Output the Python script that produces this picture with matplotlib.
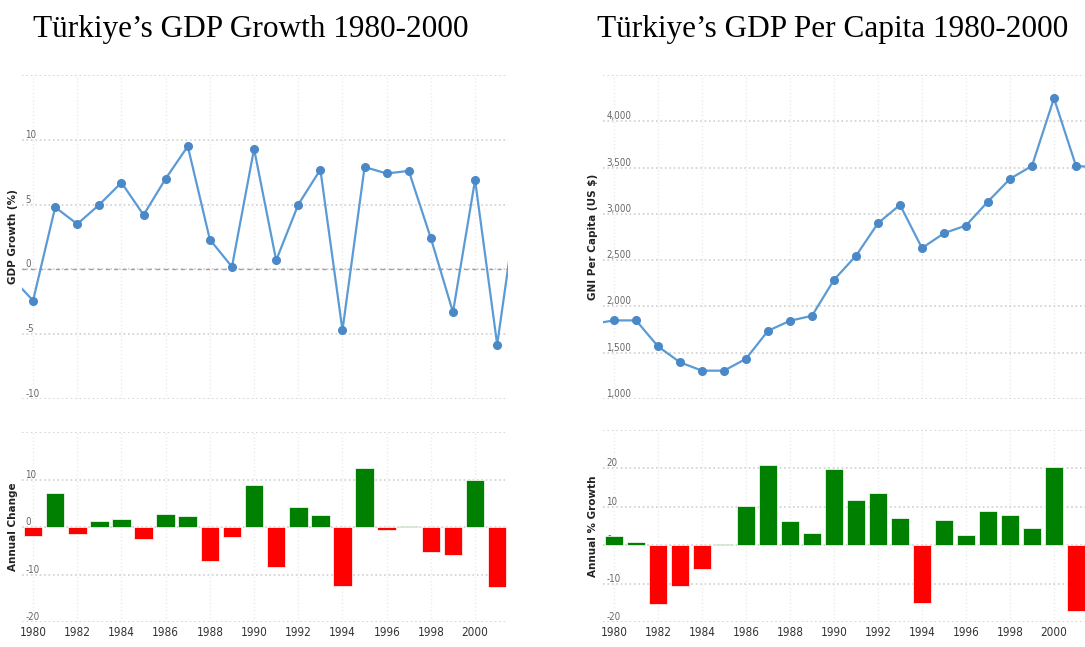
import numpy as np
import matplotlib.pyplot as plt

# years shown on the x axis (line runs a little past both ends, clipped by the axes)
line_years = list(range(1979, 2003))
bar_years = list(range(1980, 2002))

# GDP growth (%), 1979-2002
gdp_growth = [-0.6, -2.4, 4.8, 3.5, 5.0, 6.7, 4.2, 7.0, 9.5, 2.3, 0.2, 9.3,
              0.7, 5.0, 7.7, -4.7, 7.9, 7.4, 7.6, 2.4, -3.3, 6.9, -5.8, 6.2]
# annual change of growth, 1980-2001
gdp_change = [-1.9, 7.2, -1.4, 1.2, 1.6, -2.5, 2.8, 2.3, -7.2, -2.1, 8.8,
              -8.5, 4.3, 2.6, -12.4, 12.4, -0.6, 0.3, -5.3, -5.8, 10.0, -12.6]

# GNI per capita (US $), 1979-2002
gni_pc = [1810, 1849, 1849, 1568, 1396, 1306, 1306, 1435, 1737, 1845, 1899,
          2288, 2547, 2899, 3097, 2630, 2791, 2874, 3133, 3378, 3518, 4248,
          3518, 3500]
# annual % growth, 1980-2001
gni_growth = [2.4, 0.9, -15.2, -10.6, -6.3, 0.3, 10.1, 21.0, 6.3, 3.3, 19.8,
              11.7, 13.6, 7.0, -15.0, 6.6, 2.6, 9.0, 7.9, 4.4, 20.4, -17.0]

xticks = list(range(1980, 2001, 2))

line_c = '#5b9bd5'
mark_c = '#4a88c8'
grid_c = '#cfcfcf'
tick_font = ['DejaVu Sans Condensed', 'Liberation Sans Narrow', 'DejaVu Sans']

fig = plt.figure(figsize=(10.85, 6.47), dpi=100)


def style(ax, yticks, ylim, xlim, bottom):
    ax.set_xlim(*xlim)
    ax.set_ylim(*ylim)
    for s in ax.spines.values():
        s.set_visible(False)
    ax.set_yticks(yticks, labels=[f'{t:,}' for t in yticks], ha='left', va='bottom',
                  family=tick_font, stretch='condensed', fontsize=7, color='#666666')
    ax.tick_params(axis='y', length=0, pad=-2.5)
    ax.set_xticks(xticks)
    if bottom:
        ax.set_xticklabels([str(x) for x in xticks], family=tick_font, stretch='condensed',
                           fontsize=8.5, color='#333333')
    else:
        ax.set_xticklabels([])
    ax.tick_params(axis='x', length=0, pad=3)
    ax.yaxis.grid(True, linestyle=':', color=grid_c, linewidth=1.2)
    ax.xaxis.grid(True, linestyle=':', color='#ececec', linewidth=1)
    ax.set_axisbelow(True)
    # top gridline has no label in the reference
    ax.get_yticklabels()[-1].set_visible(False)


def line_chart(rect, ydata, yticks, ylim, xlim, ylabel, xlab_x):
    ax = fig.add_axes(rect)
    style(ax, yticks, ylim, xlim, False)
    ax.plot(line_years, ydata, color=line_c, linewidth=1.6, marker='o', markersize=5.5,
            markerfacecolor=mark_c, markeredgecolor=mark_c, zorder=3)
    fig.text(xlab_x, rect[1] + rect[3] / 2, ylabel, rotation=90, ha='center', va='center',
             fontsize=7.5, fontweight='bold', color='#222222')
    return ax


def bar_chart(rect, ydata, yticks, ylim, xlim, ylabel, xlab_x):
    ax = fig.add_axes(rect)
    style(ax, yticks, ylim, xlim, True)
    colors = ['#008000' if v >= 0 else '#ff0000' for v in ydata]
    ax.bar(bar_years, ydata, width=0.84, color=colors, edgecolor='white', linewidth=0.5, zorder=3)
    fig.text(xlab_x, rect[1] + rect[3] / 2, ylabel, rotation=90, ha='center', va='center',
             fontsize=7.5, fontweight='bold', color='#222222')
    return ax


left_xlim = (1979.5, 2001.49)
right_xlim = (1979.5, 2001.41)

ax1 = line_chart([0.0203, 0.3833, 0.4479, 0.5008], gdp_growth, [-10, -5, 0, 5, 10, 15],
                 (-10, 15), left_xlim, 'GDP Growth (%)', 13 / 1085)
ax1.axhline(0, color='#a0a0a0', linestyle=(0, (3, 3)), linewidth=1, zorder=2)

ax2 = bar_chart([0.0203, 0.0386, 0.4479, 0.2937], gdp_change, [-20, -10, 0, 10, 20],
                (-20, 20), left_xlim, 'Annual Change', 13 / 1085)

ax3 = line_chart([0.5558, 0.3833, 0.4442, 0.5008], gni_pc,
                 [1000, 1500, 2000, 2500, 3000, 3500, 4000, 4500],
                 (1000, 4500), right_xlim, 'GNI Per Capita (US $)', 593 / 1085)

ax4 = bar_chart([0.5558, 0.0386, 0.4442, 0.2968], gni_growth, [-20, -10, 0, 10, 20, 30],
                (-20, 30), right_xlim, 'Annual % Growth', 593 / 1085)

title_font = ['Liberation Serif', 'DejaVu Serif']
fig.text(33 / 1085, 1 - 37 / 647, 'Türkiye’s GDP Growth 1980-2000', ha='left', va='baseline',
         family=title_font, fontsize=22.5, color='black')
fig.text(597 / 1085, 1 - 37 / 647, 'Türkiye’s GDP Per Capita 1980-2000', ha='left', va='baseline',
         family=title_font, fontsize=22.5, color='black')

plt.savefig('out.png', dpi=100)
